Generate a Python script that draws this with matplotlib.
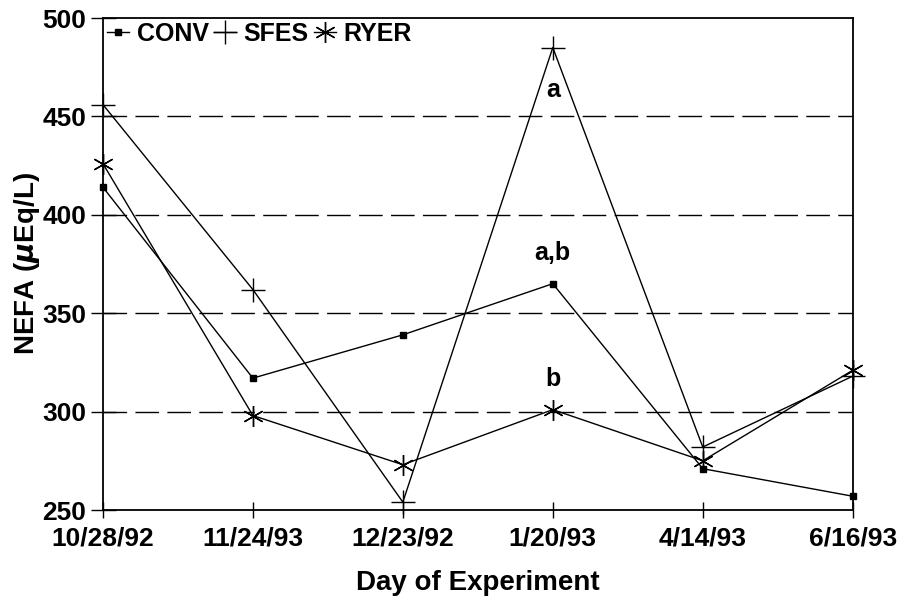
import numpy as np
import matplotlib
matplotlib.use("Agg")
import matplotlib.pyplot as plt

plt.rcParams['font.family'] = ['Liberation Sans', 'DejaVu Sans']
plt.rcParams['font.weight'] = 'bold'
plt.rcParams['mathtext.default'] = 'it'

# Data
dates = ['10/28/92', '11/24/93', '12/23/92', '1/20/93', '4/14/93', '6/16/93']
conv = [414, 317, 339, 365, 271, 257]
sfes = [456, 362, 254, 485, 282, 318]
ryer = [426, 298, 273, 301, 275, 321]
sig_labels = ['a', 'a,b', 'b']
sig_y = [460, 377, 313]

x = np.arange(len(dates))
asterisk = (6, 2, 0)

fig = plt.figure(figsize=(9.11, 6.0), dpi=100)
ax = fig.add_axes([0.113, 0.15, 0.823, 0.82])

for yv in [300, 350, 400, 450]:
    ax.axhline(yv, color='black', lw=1.0, dashes=(17, 6), zorder=1)

ax.plot(x, conv, color='black', lw=1.0, marker='s', ms=4, label='CONV', zorder=3, clip_on=False)
ax.plot(x, sfes, color='black', lw=1.0, marker='+', ms=17, mew=1.0, label='SFES', zorder=3, clip_on=False)
ax.plot(x, ryer, color='black', lw=1.0, marker=asterisk, ms=15, mew=1.0, label='RYER', zorder=3, clip_on=False)

for lab, yv in zip(sig_labels, sig_y):
    ax.text(x[3], yv, lab, ha='center', va='baseline', fontsize=18, fontweight='bold')

ax.set_xlim(0, 5)
ax.set_ylim(250, 500)
ax.set_yticks([250, 300, 350, 400, 450, 500])
ax.set_xticks(x)
ax.set_xticklabels(dates)
ax.tick_params(axis='y', direction='inout', length=18, width=1.0, labelsize=19, pad=3)
ax.tick_params(axis='x', direction='inout', length=12, width=1.0, labelsize=19, pad=6)
for lbl in ax.get_xticklabels() + ax.get_yticklabels():
    lbl.set_fontweight('bold')
for sp in ax.spines.values():
    sp.set_linewidth(1.3)

ax.set_xlabel('Day of Experiment', fontsize=20, fontweight='bold', labelpad=14)
ax.set_ylabel(r'NEFA ($\mu$Eq/L)', fontsize=20, fontweight='bold', labelpad=0)

leg = ax.legend(loc='upper left', ncol=3, frameon=False, handlelength=0.9,
                handletextpad=0.3, columnspacing=0.2, borderaxespad=0.0,
                borderpad=0.15, prop={'weight': 'bold', 'size': 18})

fig.savefig('out.png', dpi=100)
